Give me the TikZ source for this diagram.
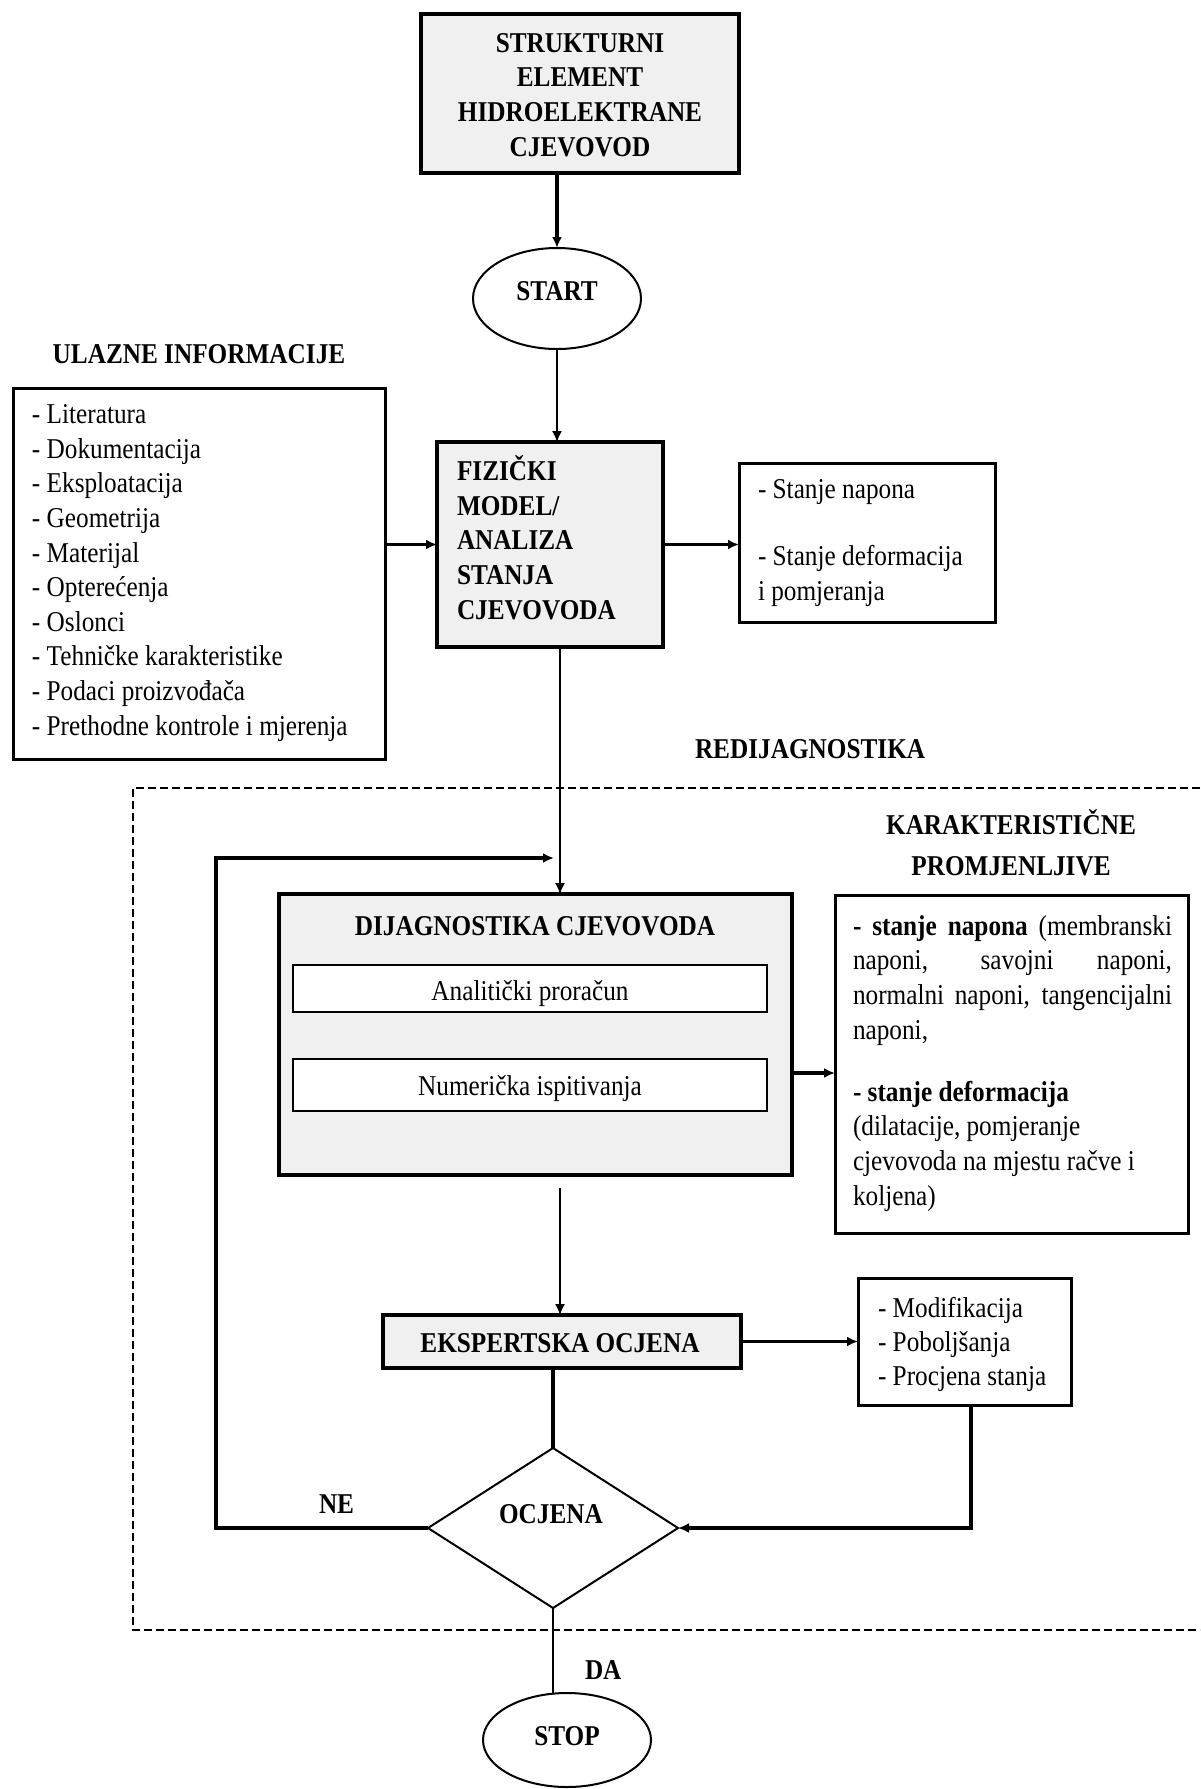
\documentclass[tikz,border=0pt]{standalone}
\usepackage{fontspec}
\setmainfont{Liberation Serif}[FakeStretch=0.88]
\usetikzlibrary{arrows.meta,shapes.geometric}
\definecolor{boxgray}{RGB}{240,240,240}
\newcommand\dfont{\fontsize{14.35pt}{17.3pt}\selectfont}

\tikzset{
  every node/.style={font=\dfont, inner sep=0pt, outer sep=0pt},
  graybox/.style={draw, rectangle, fill=boxgray, line width=1.8pt},
  whitebox/.style={draw, rectangle, fill=white, line width=1.5pt},
  innerbox/.style={draw, rectangle, fill=white, line width=1pt},
  oval/.style={draw, ellipse, fill=white, line width=1pt},
  decision/.style={draw, diamond, fill=white, line width=1pt},
  bold/.style={font=\dfont\bfseries},
  conn/.style={line width=0.75pt},
  mid/.style={line width=1.25pt},
  heavy/.style={line width=1.6pt},
  tip/.style={-{Latex[length=5.5pt,width=5pt]}},
  region/.style={line width=0.6pt, dash pattern=on 4pt off 2pt}
}

\begin{document}
\begin{tikzpicture}[x=0.5pt,y=-0.5pt]
\useasboundingbox (0,0) rectangle (1200,1789);
\fill[white] (0,0) rectangle (1200,1789);

% main vertical axis of the flow
\coordinate (ax) at (560,0);

% dashed frame of the re-diagnosis loop
\draw[region] (1200,788) -- (133,788) -- (133,1630) -- (1200,1630);

% structural element (multi-line texts are anchored at their last baseline)
\node[graybox, minimum width=159pt, minimum height=79.5pt] (top) at (580,93.5) {};
\node[bold, align=center, anchor=base] (topT) at (580,156)
  {STRUKTURNI\\ELEMENT\\HIDROELEKTRANE\\CJEVOVOD};

% start
\node[oval, minimum width=84pt, minimum height=50.5pt] (start) at (557,298.5) {};
\node[bold, anchor=base] (startT) at (557,300) {START};

% input information
\node[bold, anchor=base] (ulT) at (199,363) {ULAZNE INFORMACIJE};
\node[whitebox, minimum width=186pt, minimum height=185.5pt] (ul) at (199,573.5) {};
\node[anchor=base west, align=left] (ulL) at (32,735)
  {- Literatura\\- Dokumentacija\\- Eksploatacija\\- Geometrija\\- Materijal\\- Opterećenja\\- Oslonci\\- Tehničke karakteristike\\- Podaci proizvođača\\- Prethodne kontrole i mjerenja};

% physical model
\node[graybox, minimum width=113pt, minimum height=102.5pt] (fiz) at (550,544.5) {};
\node[bold, anchor=base west, align=left] (fizT) at (457,619)
  {FIZIČKI\\MODEL/\\ANALIZA\\STANJA\\CJEVOVODA};

% state results
\node[whitebox, minimum width=128pt, minimum height=79.5pt] (st) at (867,542.5) {};
\node[anchor=base west, align=left] (stT) at (758,600)
  {- Stanje napona\\[16.25pt]- Stanje deformacija\\i pomjeranja};

\node[bold, anchor=base west] (redT) at (695,758) {REDIJAGNOSTIKA};

% characteristic variables
\node[bold, align=center, anchor=base] (karT) at (1011,875)
  {KARAKTERISTIČNE\\[2.75pt]PROMJENLJIVE};
\node[whitebox, minimum width=176.5pt, minimum height=169pt] (kar) at (1011.5,1064) {};
\node[anchor=base west, align=left] (karL) at (853,1205)
  {\makebox[159.5pt][s]{\textbf{- stanje napona} (membranski}\\
   \makebox[159.5pt][s]{naponi, savojni naponi,}\\
   \makebox[159.5pt][s]{normalni naponi, tangencijalni}\\
   naponi,\\[13.75pt]
   \textbf{- stanje deformacija}\\
   (dilatacije, pomjeranje\\
   cjevovoda na mjestu račve i\\
   koljena)};

% diagnostics
\node[graybox, minimum width=256.5pt, minimum height=140.5pt] (dij) at (535.5,1034.5) {};
\node[bold, anchor=base] (dijT) at (535,935) {DIJAGNOSTIKA CJEVOVODA};
\node[innerbox, minimum width=237pt, minimum height=23.5pt] (ana) at (530,988.5) {};
\node[anchor=base] (anaT) at (530,1000) {Analitički proračun};
\node[innerbox, minimum width=237pt, minimum height=26pt] (num) at (530,1085) {};
\node[anchor=base] (numT) at (530,1095) {Numerička ispitivanja};

% expert assessment
\node[graybox, minimum width=179pt, minimum height=26.5pt] (eks) at (562,1341.5) {};
\node[bold, anchor=base] (eksT) at (560,1352) {EKSPERTSKA OCJENA};

\node[whitebox, minimum width=106.5pt, minimum height=63.5pt] (mod) at (964.5,1341.5) {};
\node[anchor=base west, align=left] (modT) at (878,1385)
  {- Modifikacija\\[-0.5pt]- Poboljšanja\\[-0.5pt]- Procjena stanja};

% decision
\node[decision, minimum width=125pt, minimum height=80pt] (ocj) at (553,1528) {};
\node[bold, anchor=base] (ocjT) at (551,1523) {OCJENA};
\node[bold, anchor=base west] (neT) at (319,1513) {NE};
\node[bold, anchor=base west] (daT) at (585,1679) {DA};

% stop
\node[oval, minimum width=84pt, minimum height=47pt] (stop) at (567,1740) {};
\node[bold, anchor=base] (stopT) at (567,1745) {STOP};

% connectors
\coordinate (fbtop) at (216,858);
\coordinate (fbend) at (554,858);

\draw[heavy, tip] (top.south -| start.north) -- (start.north);
\draw[conn, tip] (start.south) -- (start.south |- fiz.north);
\draw[mid, tip] (ul.east |- fiz.west) -- (fiz.west);
\draw[mid, tip] (fiz.east) -- (fiz.east -| st.west);
\draw[conn, tip] (ax |- fiz.south) -- (ax |- dij.north);
\draw[heavy, tip] ([yshift=-19.25pt]dij.east) -- ([yshift=-19.25pt]dij.east -| kar.west);
\draw[conn, tip] ([yshift=-6.5pt]ax |- dij.south) -- (ax |- eks.north);
\draw[heavy] (eks.south -| ocj.north) -- (ocj.north);
\draw[mid, tip] (eks.east) -- (eks.east -| mod.west);
\draw[heavy, tip] ([xshift=3.25pt]mod.south) |- (ocj.east);
\draw[heavy, tip] (ocj.west) -| (fbtop) -- (fbend);
\draw[mid] (ocj.south) -- (ocj.south |- stop.north);
\end{tikzpicture}
\end{document}
